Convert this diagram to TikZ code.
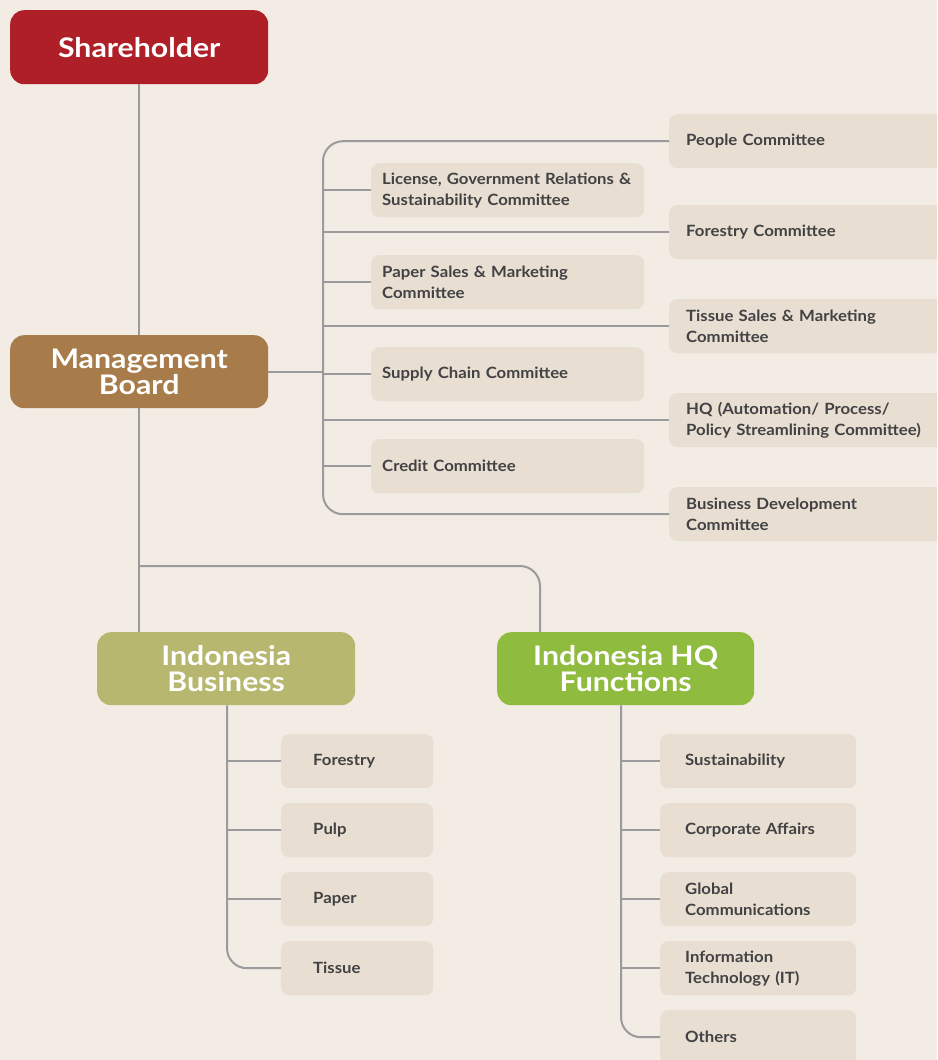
\documentclass[tikz,border=0pt]{standalone}
\usepackage{fontspec}
\setmainfont{Lato}
\newfontfamily\boxfont{Lato}[FakeStretch=1.08]
\newfontfamily\titlefont{Lato}[FakeStretch=1.12]
\usetikzlibrary{calc}
\definecolor{bg}{HTML}{F2ECE5}
\definecolor{boxc}{HTML}{E8DED1}
\definecolor{linec}{HTML}{9B9B9E}
\definecolor{txt}{HTML}{424244}
\definecolor{shc}{HTML}{AF1F27}
\definecolor{mbc}{HTML}{A87C4A}
\definecolor{ibc}{HTML}{B7B76F}
\definecolor{hqc}{HTML}{8FBB3E}
\tikzset{
  title/.style={rounded corners=14pt, minimum width=258pt, minimum height=74pt, inner sep=0pt,
    text=white, font=\titlefont\fontsize{27}{26}\selectfont\bfseries, align=center, anchor=north west},
  sub/.style={fill=boxc, rounded corners=8pt, minimum height=54pt, inner xsep=12pt, inner ysep=0pt,
    text=txt, font=\boxfont\fontsize{15.5}{21}\selectfont\bfseries, align=left, anchor=north west},
  lbox/.style={sub, text width=251pt, inner xsep=11pt},
  rbox/.style={sub, text width=262pt, inner xsep=17pt},
  ibox/.style={sub, text width=88pt, inner xsep=32pt},
  hbox/.style={sub, text width=146pt, inner xsep=25pt},
  conn/.style={draw=linec, line width=2pt}
}
\begin{document}
\begin{tikzpicture}[x=1pt,y=-1pt]
\clip (0,0) rectangle (937,1060);
\fill[bg] (0,0) rectangle (937,1060);
% main nodes
\node[title, fill=shc] (sh) at (10,10) {Shareholder};
\node[title, fill=mbc, minimum height=73pt] (mb) at (10,335) {Management\\Board};
\node[title, fill=ibc, minimum height=73pt] (ib) at (97,632) {Indonesia\\Business};
\node[title, fill=hqc, minimum height=73pt, minimum width=257pt] (hq) at (497,632) {Indonesia HQ\\Functions};
% committees
\node[rbox] (people) at (669,114) {People Committee};
\node[lbox] (lic) at (371,163) {License, Government Relations \&\\Sustainability Committee};
\node[rbox] (forc) at (669,205) {Forestry Committee};
\node[lbox] (psm) at (371,255) {Paper Sales \& Marketing\\Committee};
\node[rbox] (tsm) at (669,299) {Tissue Sales \& Marketing\\Committee};
\node[lbox] (scc) at (371,347) {Supply Chain Committee};
\node[rbox] (hqc) at (669,393) {HQ (Automation/ Process/\\Policy Streamlining Committee)};
\node[lbox] (cc) at (371,439) {Credit Committee};
\node[rbox] (bdc) at (669,487) {Business Development\\Committee};
% business
\node[ibox] (bf) at (281,734) {Forestry};
\node[ibox] (bp) at (281,803) {Pulp};
\node[ibox] (bpa) at (281,872) {Paper};
\node[ibox] (bt) at (281,941) {Tissue};
% HQ functions
\node[hbox] (hs) at (660,734) {Sustainability};
\node[hbox] (hca) at (660,803) {Corporate Affairs};
\node[hbox] (hgc) at (660,872) {Global\\Communications};
\node[hbox] (hit) at (660,941) {Information\\Technology (IT)};
\node[hbox] (ho) at (660,1010) {Others};
% connectors
\coordinate (tx) at (323,0);
\draw[conn] (sh.south) -- (mb.north);
\draw[conn] (mb.east) -- (mb.east -| tx);
\draw[conn, rounded corners=20pt] (people.west) -- (people.west -| tx) -- (bdc.west -| tx) -- (bdc.west);
\foreach \n in {lic,forc,psm,tsm,scc,hqc,cc} {
  \draw[conn] (\n.west) -- (\n.west -| tx);
}
\coordinate (hx) at (540,566);
\draw[conn] (mb.south) -- (mb.south |- ib.north);
\draw[conn, rounded corners=20pt] (mb.south |- hx) -- (hx) -- (hx |- hq.north);
% business tree
\coordinate (bx) at (227,0);
\draw[conn, rounded corners=20pt] (ib.south -| bx) -- (bt.west -| bx) -- (bt.west);
\foreach \n in {bf,bp,bpa} {
  \draw[conn] (\n.west) -- (\n.west -| bx);
}
% HQ tree
\coordinate (fx) at (621,0);
\draw[conn, rounded corners=20pt] (hq.south -| fx) -- (ho.west -| fx) -- (ho.west);
\foreach \n in {hs,hca,hgc,hit} {
  \draw[conn] (\n.west) -- (\n.west -| fx);
}
\end{tikzpicture}
\end{document}
